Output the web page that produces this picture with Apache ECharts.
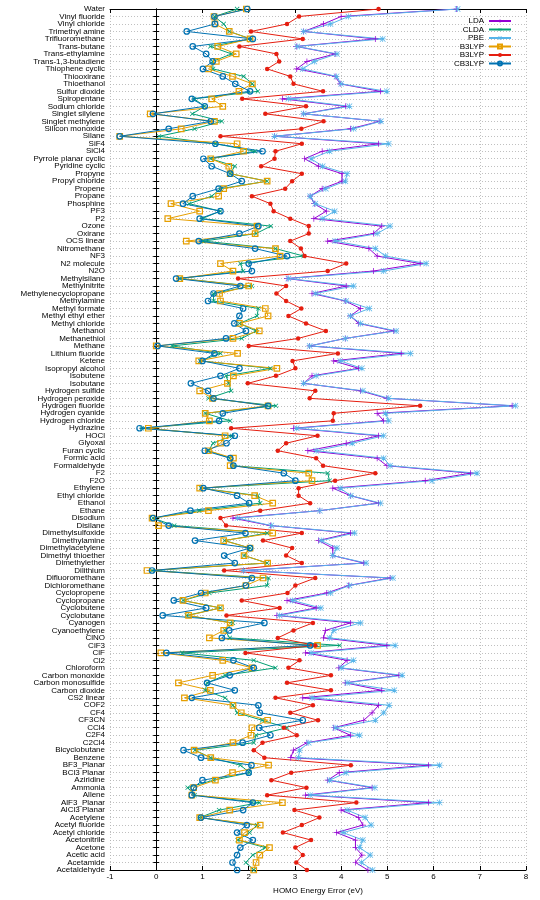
<!DOCTYPE html>
<html>
<head>
<meta charset="utf-8">
<script src="https://cdn.jsdelivr.net/npm/echarts@6/dist/echarts.min.js"></script>
<style>
  html, body { margin: 0; padding: 0; background: #fff; }
  #main { width: 540px; height: 900px; }
</style>
</head>
<body>
<div id="main"></div>
<script>
// molecules, top to bottom
var molecules = ["Water", "Vinyl fluoride", "Vinyl chloride", "Trimethyl amine", "Trifluoromethane", "Trans-butane", "Trans-ethylamine", "Trans-1,3-butadiene", "Thiophene cyclic", "Thiooxirane",
  "Thioethanol", "Sulfur dioxide", "Spiropentane", "Sodium chloride", "Singlet silylene", "Singlet methylene", "Silicon monoxide", "Silane", "SiF4", "SiCl4",
  "Pyrrole planar cyclic", "Pyridine cyclic", "Propyne", "Propyl chloride", "Propene", "Propane", "Phosphine", "PF3", "P2", "Ozone",
  "Oxirane", "OCS linear", "Nitromethane", "NF3", "N2 molecule", "N2O", "Methylsilane", "Methylnitrite", "Methylenecyclopropane", "Methylamine",
  "Methyl formate", "Methyl ethyl ether", "Methyl chloride", "Methanol", "Methanethiol", "Methane", "Lithium fluoride", "Ketene", "Isopropyl alcohol", "Isobutene",
  "Isobutane", "Hydrogen sulfide", "Hydrogen peroxide", "Hydrogen fluoride", "Hydrogen cyanide", "Hydrogen chloride", "Hydrazine", "HOCl", "Glyoxal", "Furan cyclic",
  "Formic acid", "Formaldehyde", "F2", "F2O", "Ethylene", "Ethyl chloride", "Ethanol", "Ethane", "Disodium", "Disilane",
  "Dimethylsulfoxide", "Dimethylamine", "Dimethylacetylene", "Dimethyl thioether", "Dimethylether", "Dilithium", "Difluoromethane", "Dichloromethane", "Cyclopropene", "Cyclopropane",
  "Cyclobutene", "Cyclobutane", "Cyanogen", "Cyanoethylene", "ClNO", "ClF3", "ClF", "Cl2", "Chloroform", "Carbon monoxide",
  "Carbon monosulfide", "Carbon dioxide", "CS2 linear", "COF2", "CF4", "CF3CN", "CCl4", "C2F4", "C2Cl4", "Bicyclobutane",
  "Benzene", "BF3_Planar", "BCl3 Planar", "Aziridine", "Ammonia", "Allene", "AlF3_Planar", "AlCl3 Planar", "Acetylene", "Acetyl fluoride",
  "Acetyl chloride", "Acetonitrile", "Acetone", "Acetic acid", "Acetamide", "Acetaldehyde"];

var lda = [6.50, 4.00, 3.62, 3.19, 4.74, 3.03, 3.87, 3.26, 3.04, 3.87,
  3.98, 4.85, 2.73, 4.10, 3.19, 4.84, 4.20, 2.56, 4.81, 3.59,
  3.21, 3.51, 4.02, 4.02, 3.59, 3.33, 3.42, 3.68, 3.41, 4.88,
  4.70, 3.71, 4.60, 4.78, 5.71, 4.70, 2.83, 4.11, 3.37, 4.09,
  4.42, 4.20, 4.38, 5.14, 4.09, 3.32, 5.30, 3.84, 4.38, 3.37,
  3.19, 4.42, 4.99, 7.70, 4.78, 4.92, 2.97, 4.81, 4.11, 3.28,
  4.78, 4.99, 6.80, 5.82, 3.82, 4.20, 4.81, 3.54, 1.66, 2.47,
  4.20, 3.51, 3.82, 3.82, 4.49, 1.89, 5.06, 4.16, 3.69, 2.83,
  3.46, 2.61, 4.20, 3.66, 3.62, 4.99, 3.23, 4.13, 3.95, 5.25,
  4.09, 4.88, 3.17, 4.81, 4.67, 4.49, 3.84, 4.20, 3.26, 2.97,
  2.91, 5.89, 3.96, 3.71, 4.67, 3.23, 5.89, 4.00, 4.38, 4.47,
  3.90, 4.31, 4.31, 4.45, 4.31, 4.58];

var clda = [1.75, 1.26, 1.46, 1.58, 2.05, 1.17, 1.63, 1.22, 1.23, 1.89,
  2.08, 2.20, 0.82, 1.05, 0.78, 1.42, 0.83, 0.06, 1.28, 2.14,
  1.18, 1.70, 1.60, 2.40, 1.39, 1.20, 0.71, 1.39, 0.99, 2.48,
  2.16, 1.02, 2.58, 3.19, 1.82, 1.88, 0.51, 2.07, 1.24, 1.24,
  2.21, 2.18, 1.80, 2.16, 1.85, 0.34, 1.39, 0.95, 2.47, 1.51,
  1.57, 1.62, 1.13, 2.59, 1.06, 1.60, -0.31, 1.64, 1.23, 1.13,
  1.60, 1.66, 3.71, 3.75, 0.97, 2.20, 2.25, 0.93, -0.07, 0.39,
  2.40, 1.48, 2.03, 1.90, 2.40, -0.09, 2.43, 2.40, 1.15, 0.58,
  1.39, 0.66, 1.66, 1.49, 1.59, 3.97, 0.56, 2.11, 2.58, 1.49,
  1.10, 1.06, 1.49, 1.66, 1.75, 2.29, 2.83, 2.16, 2.11, 0.84,
  1.18, 1.82, 2.02, 1.24, 0.68, 0.83, 2.23, 1.36, 0.94, 2.18,
  2.02, 1.76, 2.36, 2.09, 1.94, 2.11];

var pbe = [6.52, 4.16, 3.77, 3.19, 4.90, 3.05, 3.91, 3.42, 3.17, 3.90,
  4.00, 4.99, 2.86, 4.18, 3.19, 4.86, 4.27, 2.56, 5.03, 3.75,
  3.35, 3.60, 4.13, 4.09, 3.67, 3.33, 3.44, 3.86, 3.59, 5.06,
  4.78, 3.87, 4.74, 4.96, 5.84, 4.92, 2.86, 4.27, 3.44, 4.11,
  4.61, 4.20, 4.42, 5.19, 4.09, 3.32, 5.50, 3.98, 4.45, 3.46,
  3.19, 4.47, 5.03, 7.77, 4.96, 5.03, 3.04, 4.92, 4.24, 3.46,
  4.92, 5.06, 6.94, 5.97, 3.98, 4.21, 4.85, 3.54, 1.76, 2.49,
  4.29, 3.57, 3.91, 3.82, 4.54, 1.89, 5.12, 4.18, 3.77, 2.95,
  3.56, 2.67, 4.42, 3.84, 3.75, 5.17, 3.35, 4.27, 4.00, 5.32,
  4.13, 5.15, 3.37, 5.04, 4.92, 4.74, 3.87, 4.40, 3.30, 3.10,
  3.08, 6.13, 4.11, 3.75, 4.73, 3.33, 6.13, 4.13, 4.52, 4.65,
  4.04, 4.47, 4.40, 4.63, 4.44, 4.68];

var b3lypOrange = [1.95, 1.25, 1.27, 1.58, 2.03, 1.33, 1.73, 1.30, 1.13, 1.65,
  2.08, 1.79, 1.20, 1.44, -0.13, 1.26, 0.54, -0.79, 1.75, 1.89,
  1.18, 1.57, 1.60, 2.40, 1.46, 1.35, 0.32, 0.94, 0.25, 2.18,
  2.14, 0.65, 2.58, 2.68, 1.39, 1.66, 0.51, 2.00, 1.37, 1.39,
  2.36, 2.42, 1.80, 2.23, 1.66, 0.00, 1.76, 0.92, 2.61, 1.67,
  1.54, 0.94, 1.22, 2.42, 1.06, 1.15, -0.17, 1.49, 1.39, 1.13,
  1.67, 1.60, 3.30, 3.37, 0.94, 2.13, 2.52, 1.13, -0.09, 0.05,
  2.52, 1.46, 2.03, 1.90, 2.41, -0.20, 2.31, 1.94, 1.06, 0.58,
  1.39, 0.70, 1.60, 1.46, 1.15, 3.49, 0.10, 1.44, 2.07, 1.22,
  0.48, 1.17, 0.61, 1.66, 1.84, 2.41, 2.07, 2.05, 1.66, 0.82,
  1.18, 2.43, 1.65, 1.28, 0.81, 0.77, 2.73, 1.59, 0.94, 2.25,
  1.91, 1.80, 2.45, 2.24, 2.16, 2.11];

var b3lypRed = [4.81, 3.09, 2.83, 2.05, 3.17, 1.80, 2.60, 2.66, 2.40, 2.90,
  2.97, 3.61, 1.86, 3.24, 2.36, 3.62, 3.14, 1.39, 3.15, 2.58,
  2.56, 2.27, 3.15, 2.94, 2.79, 2.07, 2.47, 2.54, 2.90, 3.30,
  3.30, 2.90, 3.13, 3.21, 4.11, 3.71, 1.77, 2.81, 2.60, 2.81,
  3.14, 2.86, 3.24, 3.67, 3.07, 2.00, 3.93, 2.95, 3.01, 2.59,
  1.98, 3.44, 3.32, 5.71, 3.84, 3.82, 1.62, 3.49, 2.81, 2.63,
  3.46, 3.61, 4.74, 3.87, 3.08, 3.08, 3.33, 2.25, 1.39, 1.51,
  3.15, 2.31, 2.94, 2.81, 3.15, 1.47, 3.44, 3.01, 2.84, 1.85,
  2.67, 1.52, 3.39, 2.97, 2.63, 3.44, 1.93, 3.10, 2.86, 3.78,
  2.83, 3.78, 2.58, 3.39, 2.90, 3.50, 2.76, 3.04, 2.30, 2.11,
  2.34, 4.21, 2.92, 2.49, 3.25, 2.40, 4.33, 2.99, 3.53, 3.15,
  2.74, 3.35, 3.01, 3.17, 3.03, 3.26];

var cb3lyp = [1.97, 1.26, 1.27, 0.66, 2.09, 0.79, 1.08, 1.22, 1.01, 1.44,
  1.71, 2.03, 0.77, 1.05, -0.07, 1.18, 0.27, -0.79, 1.28, 2.30,
  1.02, 1.20, 1.60, 1.85, 1.35, 0.79, 0.58, 1.39, 0.94, 2.21,
  1.80, 0.92, 2.14, 2.83, 2.00, 2.07, 0.43, 1.82, 1.24, 1.12,
  1.88, 1.80, 1.69, 1.94, 1.51, 0.03, 1.26, 1.00, 1.80, 1.39,
  0.75, 1.12, 1.24, 2.42, 1.44, 1.36, -0.36, 1.70, 1.52, 1.05,
  1.60, 1.67, 2.76, 3.01, 1.02, 1.75, 2.01, 0.74, -0.07, 0.27,
  1.93, 0.84, 2.03, 1.47, 1.70, -0.09, 2.07, 1.94, 0.97, 0.38,
  1.08, 0.14, 2.34, 1.58, 1.42, 3.33, 0.22, 1.67, 2.11, 1.59,
  1.10, 1.70, 0.77, 2.21, 2.24, 3.17, 2.23, 2.47, 1.87, 0.59,
  0.97, 2.06, 2.00, 1.00, 0.81, 0.77, 2.09, 1.88, 0.97, 1.96,
  1.75, 2.09, 1.82, 1.75, 1.65, 1.75];

var plusPath = 'path://M4.4,0H5.6V4.4H10V5.6H5.6V10H4.4V5.6H0V4.4H4.4Z';
var starPath = 'path://M4.4,0H5.6V4.4H10V5.6H5.6V10H4.4V5.6H0V4.4H4.4Z' +
  'M0,0.8L0.8,0L5,4.2L9.2,0L10,0.8L5.8,5L10,9.2L9.2,10L5,5.8L0.8,10L0,9.2L4.2,5Z';

function pairs(vals) {
  return vals.map(function (v, i) { return [v, molecules[i]]; });
}

function mkSeries(name, vals, color, symbol, size, opts) {
  opts = opts || {};
  return {
    name: name,
    type: 'line',
    data: pairs(vals),
    symbol: symbol,
    symbolSize: size,
    symbolRotate: opts.rotate || 0,
    showAllSymbol: true,
    lineStyle: { color: color, width: 1 },
    itemStyle: opts.hollow
      ? { color: 'rgba(255,255,255,0)', borderColor: color, borderWidth: 1.2 }
      : { color: color, borderWidth: 0 },
    emphasis: { disabled: true },
    animation: false
  };
}

var font = 'Liberation Sans, Arial, sans-serif';

var option = {
  backgroundColor: '#fff',
  textStyle: { fontFamily: font },
  grid: { left: 110, right: 14, top: 9, bottom: 25 },
  legend: {
    orient: 'vertical',
    right: 23,
    top: 12,
    align: 'right',
    itemWidth: 22,
    itemHeight: 5,
    itemGap: 0.5,
    textStyle: { fontSize: 8, color: '#000', fontFamily: font, lineHeight: 7.6 },
    data: ['LDA', 'CLDA', 'PBE', 'B3LYP', 'B3LYP\u200B', 'CB3LYP']
  },
  xAxis: [{
    type: 'value',
    min: -1,
    max: 8,
    interval: 1,
    name: 'HOMO Energy Error (eV)',
    nameLocation: 'middle',
    nameGap: 17,
    nameTextStyle: { fontSize: 8, color: '#000', fontFamily: font },
    axisLine: { show: true, lineStyle: { color: '#000', width: 1 } },
    axisTick: { show: true, inside: true, length: 4, lineStyle: { color: '#000' } },
    axisLabel: { fontSize: 8, color: '#000', margin: 3, fontFamily: font },
    splitLine: { show: true, lineStyle: { color: '#b0b0b0', type: [1, 2], width: 0.8 } }
  }, {
    type: 'value',
    position: 'top',
    min: -1,
    max: 8,
    interval: 1,
    axisLine: { show: true, lineStyle: { color: '#000', width: 1 } },
    axisTick: { show: true, inside: true, length: 4, lineStyle: { color: '#000' } },
    axisLabel: { show: false },
    splitLine: { show: false }
  }],
  yAxis: [{
    type: 'category',
    inverse: true,
    boundaryGap: false,
    data: molecules,
    axisLine: { show: true, lineStyle: { color: '#000', width: 1 } },
    axisTick: { show: true, inside: true, length: 3, interval: 0, lineStyle: { color: '#000' } },
    axisLabel: { interval: 0, fontSize: 8, color: '#000', margin: 5, fontFamily: font },
    splitLine: { show: true, interval: 0, lineStyle: { color: '#b0b0b0', type: [1, 2], width: 0.8 } }
  }, {
    type: 'category',
    position: 'right',
    inverse: true,
    boundaryGap: false,
    data: molecules,
    axisLine: { show: true, lineStyle: { color: '#000', width: 1 } },
    axisTick: { show: true, inside: true, length: 3, interval: 0, lineStyle: { color: '#000' } },
    axisLabel: { show: false },
    splitLine: { show: false }
  }],
  series: [
    mkSeries('LDA', lda, '#9400d3', plusPath, 6),
    mkSeries('CLDA', clda, '#009e73', plusPath, 6, { rotate: 45 }),
    mkSeries('PBE', pbe, '#56b4e9', starPath, 6),
    mkSeries('B3LYP', b3lypOrange, '#e69f00', 'rect', 5.5, { hollow: true }),
    mkSeries('B3LYP\u200B', b3lypRed, '#e51e10', 'circle', 4.5),
    mkSeries('CB3LYP', cb3lyp, '#0072b2', 'circle', 5.5, { hollow: true })
  ]
};

var chart = echarts.init(document.getElementById('main'), null, { renderer: 'canvas' });
chart.setOption(option);
</script>
</body>
</html>
